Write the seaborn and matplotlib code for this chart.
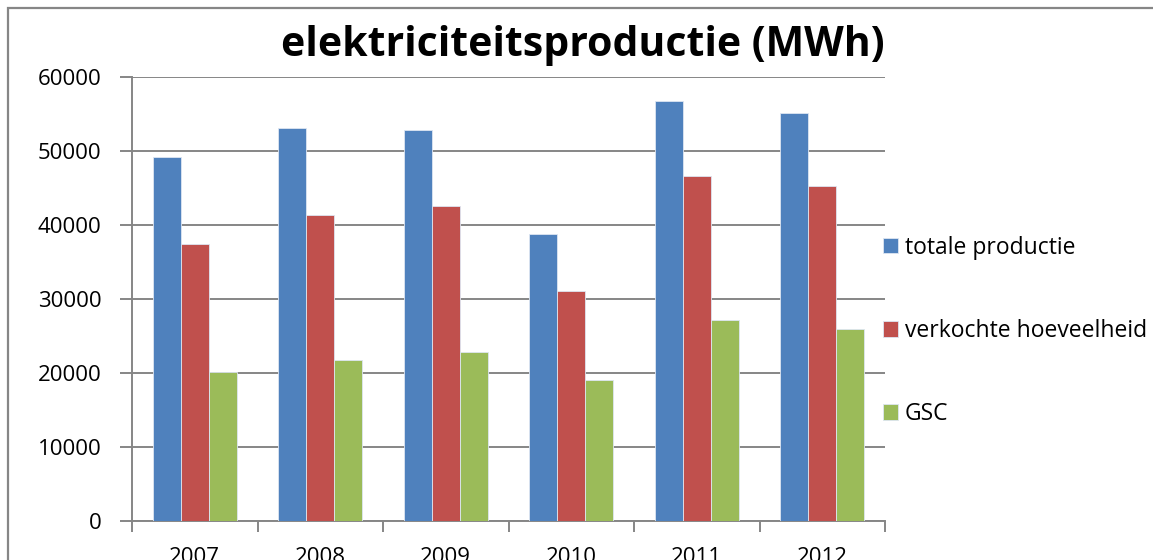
import pandas as pd
import matplotlib.pyplot as plt
import matplotlib.patches as mpatches
from matplotlib.ticker import FixedLocator
import seaborn as sns

# values (MWh)
years = ["2007", "2008", "2009", "2010", "2011", "2012"]
totale_productie = [49150, 53150, 52790, 38830, 56710, 55180]
verkochte_hoeveelheid = [37470, 41310, 42610, 31040, 46620, 45230]
gsc = [20090, 21760, 22840, 19050, 27160, 25950]
series_names = ["totale productie", "verkochte hoeveelheid", "GSC"]
y_ticks = [0, 10000, 20000, 30000, 40000, 50000, 60000]

df = pd.DataFrame({
    "jaar": years * 3,
    "reeks": [series_names[0]] * 6 + [series_names[1]] * 6 + [series_names[2]] * 6,
    "waarde": totale_productie + verkochte_hoeveelheid + gsc,
})

sns.set_style("white")
plt.rcParams["font.family"] = ["Open Sans", "DejaVu Sans"]
plt.rcParams["text.color"] = "black"
plt.rcParams["xtick.color"] = "black"
plt.rcParams["ytick.color"] = "black"

grid_grey = "#868686"
colors = ["#4F81BD", "#C0504D", "#9BBB59"]

fig = plt.figure(figsize=(11.53, 5.6), dpi=100)
ax = fig.add_axes([132 / 1153, 39 / 560, 753 / 1153, 444 / 560])

sns.barplot(data=df, x="jaar", y="waarde", hue="reeks", palette=colors, saturation=1,
            width=2 / 3, edgecolor="#dde6f2", linewidth=0.6, ax=ax, zorder=3)

ax.set_xlim(-0.5, 5.5)
ax.set_ylim(0, 60000)
ax.set_yticks(y_ticks)
ax.set_yticklabels([str(t) for t in y_ticks], fontsize=16)
ax.yaxis.grid(True, color=grid_grey, linewidth=1.4, zorder=0)
ax.set_axisbelow(True)

ax.xaxis.set_minor_locator(FixedLocator([i - 0.5 for i in range(7)]))
ax.tick_params(axis="x", which="major", length=0, pad=19, labelsize=16)
ax.tick_params(axis="x", which="minor", length=8, width=1.4, color=grid_grey, bottom=True)
ax.tick_params(axis="y", length=9, width=1.4, color=grid_grey, left=True, pad=13)

for side in ["top", "right"]:
    ax.spines[side].set_visible(False)
for side in ["left", "bottom"]:
    ax.spines[side].set_color(grid_grey)
    ax.spines[side].set_linewidth(1.4)

ax.set_xlabel("")
ax.set_ylabel("")

handles, labels = ax.get_legend_handles_labels()
ax.legend_.remove()
fig.legend(handles, labels, loc="center left", bbox_to_anchor=(874 / 1153, 1 - 331 / 560),
           frameon=False, fontsize=16.5, handlelength=0.65, handleheight=0.65,
           handletextpad=0.3, labelspacing=2.58, borderaxespad=0)

fig.text(583 / 1153, 1 - 46 / 560, "elektriciteitsproductie (MWh)", ha="center", va="center",
         fontsize=29.5, fontweight="bold")

# outer chart frame, cut off at the right and bottom like the reference
fig.patches.append(mpatches.Rectangle((8 / 1153, -0.1), 1.2, 1 - 8 / 560 + 0.1,
                                      transform=fig.transFigure, fill=False,
                                      edgecolor=grid_grey, linewidth=1.6))

fig.savefig("out.png", dpi=100)
